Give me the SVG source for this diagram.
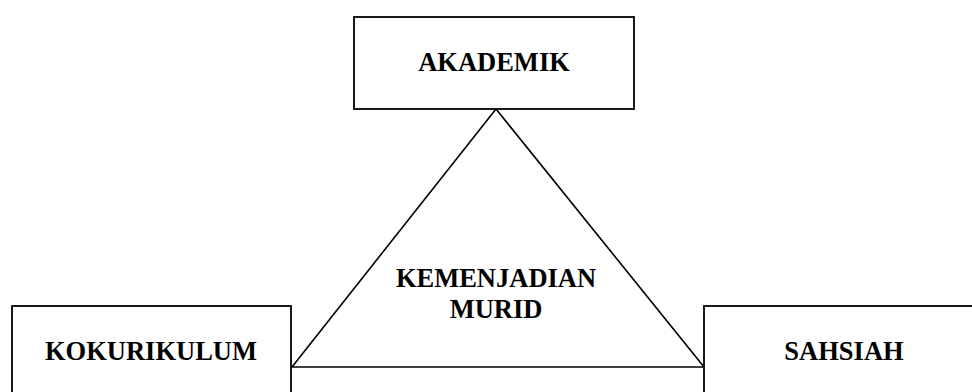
<svg xmlns="http://www.w3.org/2000/svg" width="972" height="392" viewBox="0 0 972 392">
<style>
.box{fill:#fff;stroke:#000;stroke-width:1.8}
.tri{fill:none;stroke:#000;stroke-width:1.6}
.lbl{font-family:"Liberation Serif","Times New Roman",serif;font-weight:bold;font-size:26.5px;fill:#000;text-anchor:middle}
</style>
<rect width="972" height="392" fill="#fff"/>
<g id="connectors">
<polygon class="tri" points="496,109 292,367 704,367"/>
</g>
<g id="akademik">
<rect class="box" x="354" y="17" width="280" height="92"/>
<text class="lbl" x="494" y="71">AKADEMIK</text>
</g>
<g id="kokurikulum">
<rect class="box" x="12" y="306" width="279" height="100"/>
<text class="lbl" x="151" y="360">KOKURIKULUM</text>
</g>
<g id="sahsiah">
<rect class="box" x="704" y="306" width="280" height="100"/>
<text class="lbl" x="844" y="360">SAHSIAH</text>
</g>
<g id="kemenjadian">
<text class="lbl" x="496" y="287">KEMENJADIAN</text>
<text class="lbl" x="496" y="318">MURID</text>
</g>
</svg>
